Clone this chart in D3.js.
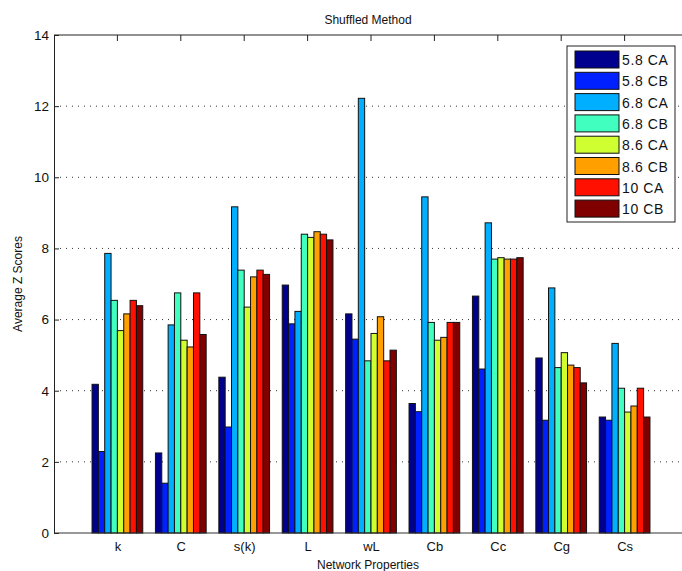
<!DOCTYPE html>
<html>
<head>
<meta charset="utf-8">
<script src="https://cdn.jsdelivr.net/npm/d3@7"></script>
<style>
  body { margin: 0; background: #fff; }
  svg { display: block; font-family: "Liberation Sans", Arial, sans-serif; }
</style>
</head>
<body>
<svg id="chart" width="682" height="571"></svg>
<script>
// data
var categories = ["k", "C", "s(k)", "L", "wL", "Cb", "Cc", "Cg", "Cs"];
var series = ["5.8 CA", "5.8 CB", "6.8 CA", "6.8 CB", "8.6 CA", "8.6 CB", "10 CA", "10 CB"];
var colors = ["#00008f", "#0020ff", "#00afff", "#40ffbf", "#cfff30", "#ffa000", "#ff1000", "#800000"];
// one row per series, one value per category
var values = [
  [4.18, 2.25, 4.38, 6.97, 6.16, 3.64, 6.66, 4.92, 3.26],
  [2.29, 1.40, 2.98, 5.88, 5.45, 3.41, 4.61, 3.17, 3.17],
  [7.86, 5.85, 9.17, 6.23, 12.22, 9.45, 8.72, 6.89, 5.33],
  [6.54, 6.75, 7.39, 8.40, 4.84, 5.92, 7.70, 4.65, 4.07],
  [5.69, 5.42, 6.35, 8.31, 5.61, 5.42, 7.74, 5.07, 3.40],
  [6.16, 5.23, 7.20, 8.47, 6.08, 5.50, 7.70, 4.72, 3.57],
  [6.54, 6.75, 7.39, 8.40, 4.84, 5.92, 7.70, 4.65, 4.07],
  [6.39, 5.58, 7.27, 8.24, 5.14, 5.92, 7.74, 4.22, 3.26]
];
var yTicks = [0, 2, 4, 6, 8, 10, 12, 14];

var svg = d3.select("#chart");
// note: "top" is taken by window.top, so plot edges get their own names
var pLeft = 54, pRight = 688, pTop = 35, pBottom = 533;
var step = (pRight - pLeft) / 10;

var x0 = d3.scaleBand()
  .domain(categories)
  .range([pLeft + step / 2, pRight - step / 2])
  .paddingInner(0.2)
  .paddingOuter(0.1);
var x1 = d3.scaleBand()
  .domain(series)
  .range([0, x0.bandwidth()]);
var y = d3.scaleLinear().domain([0, 14]).range([pBottom, pTop]);

// grid behind the bars
svg.append("g")
  .selectAll("line")
  .data(yTicks.filter(function(d) { return d > 0 && d < 14; }))
  .enter().append("line")
  .attr("x1", pLeft).attr("x2", pRight)
  .attr("y1", function(d) { return y(d); })
  .attr("y2", function(d) { return y(d); })
  .attr("stroke", "#333")
  .attr("stroke-width", 1)
  .attr("stroke-dasharray", "1,5");

// bars
svg.append("g")
  .selectAll("g")
  .data(series)
  .enter().append("g")
  .attr("fill", function(d, i) { return colors[i]; })
  .selectAll("rect")
  .data(function(d, i) { return values[i].map(function(v, j) { return { s: d, c: categories[j], v: v }; }); })
  .enter().append("rect")
  .attr("x", function(d) { return x0(d.c) + x1(d.s); })
  .attr("width", x1.bandwidth())
  .attr("y", function(d) { return y(d.v); })
  .attr("height", function(d) { return y(0) - y(d.v); })
  .attr("stroke", "#111")
  .attr("stroke-width", 1);

// axes
var yAxis = svg.append("g")
  .attr("transform", "translate(" + pLeft + ",0)")
  .call(d3.axisLeft(y).tickValues(yTicks).tickSize(-5).tickPadding(5).tickFormat(d3.format("d")));
yAxis.select(".domain").attr("stroke", "#222");
yAxis.selectAll(".tick line").attr("stroke", "#222");
yAxis.selectAll("text").attr("font-size", 13.5).attr("fill", "#111");

var centers = function(d) { return x0(d) + x0.bandwidth() / 2; };
var xAxis = svg.append("g")
  .attr("transform", "translate(0," + pBottom + ")")
  .call(d3.axisBottom(d3.scalePoint().domain(categories).range([centers(categories[0]), centers(categories[categories.length - 1])]))
    .tickSize(0).tickPadding(9));
xAxis.select(".domain").remove();
xAxis.selectAll("text").attr("font-size", 13).attr("fill", "#111");
svg.append("line").attr("x1", pLeft).attr("x2", pRight).attr("y1", pBottom).attr("y2", pBottom)
  .attr("stroke", "#333").attr("stroke-width", 1.2);

// top frame with ticks
svg.append("line").attr("x1", pLeft).attr("x2", pRight).attr("y1", pTop).attr("y2", pTop)
  .attr("stroke", "#222");
svg.append("g").selectAll("line").data(categories).enter().append("line")
  .attr("x1", centers).attr("x2", centers)
  .attr("y1", pTop).attr("y2", pTop + 6)
  .attr("stroke", "#222");

// titles
svg.append("text").attr("x", 368).attr("y", 24).attr("text-anchor", "middle")
  .attr("font-size", 12).attr("fill", "#111").text("Shuffled Method");
svg.append("text").attr("x", 368).attr("y", 569).attr("text-anchor", "middle")
  .attr("font-size", 12).attr("fill", "#111").text("Network Properties");
svg.append("text").attr("transform", "translate(22," + ((pTop + pBottom) / 2) + ") rotate(-90)")
  .attr("text-anchor", "middle").attr("font-size", 12).attr("fill", "#111").text("Average Z Scores");

// legend
var lg = svg.append("g").attr("transform", "translate(567,46)");
lg.append("rect").attr("width", 108).attr("height", 176)
  .attr("fill", "#fff").attr("stroke", "#222");
var items = lg.selectAll("g.item").data(series).enter().append("g")
  .attr("class", "item")
  .attr("transform", function(d, i) { return "translate(8," + (5 + i * 21.3) + ")"; });
items.append("rect").attr("width", 44).attr("height", 17)
  .attr("fill", function(d, i) { return colors[i]; })
  .attr("stroke", "#111");
items.append("text").attr("x", 47).attr("y", 14)
  .attr("font-size", 14).attr("letter-spacing", 0.6).attr("fill", "#111").text(function(d) { return d; });
</script>
</body>
</html>
